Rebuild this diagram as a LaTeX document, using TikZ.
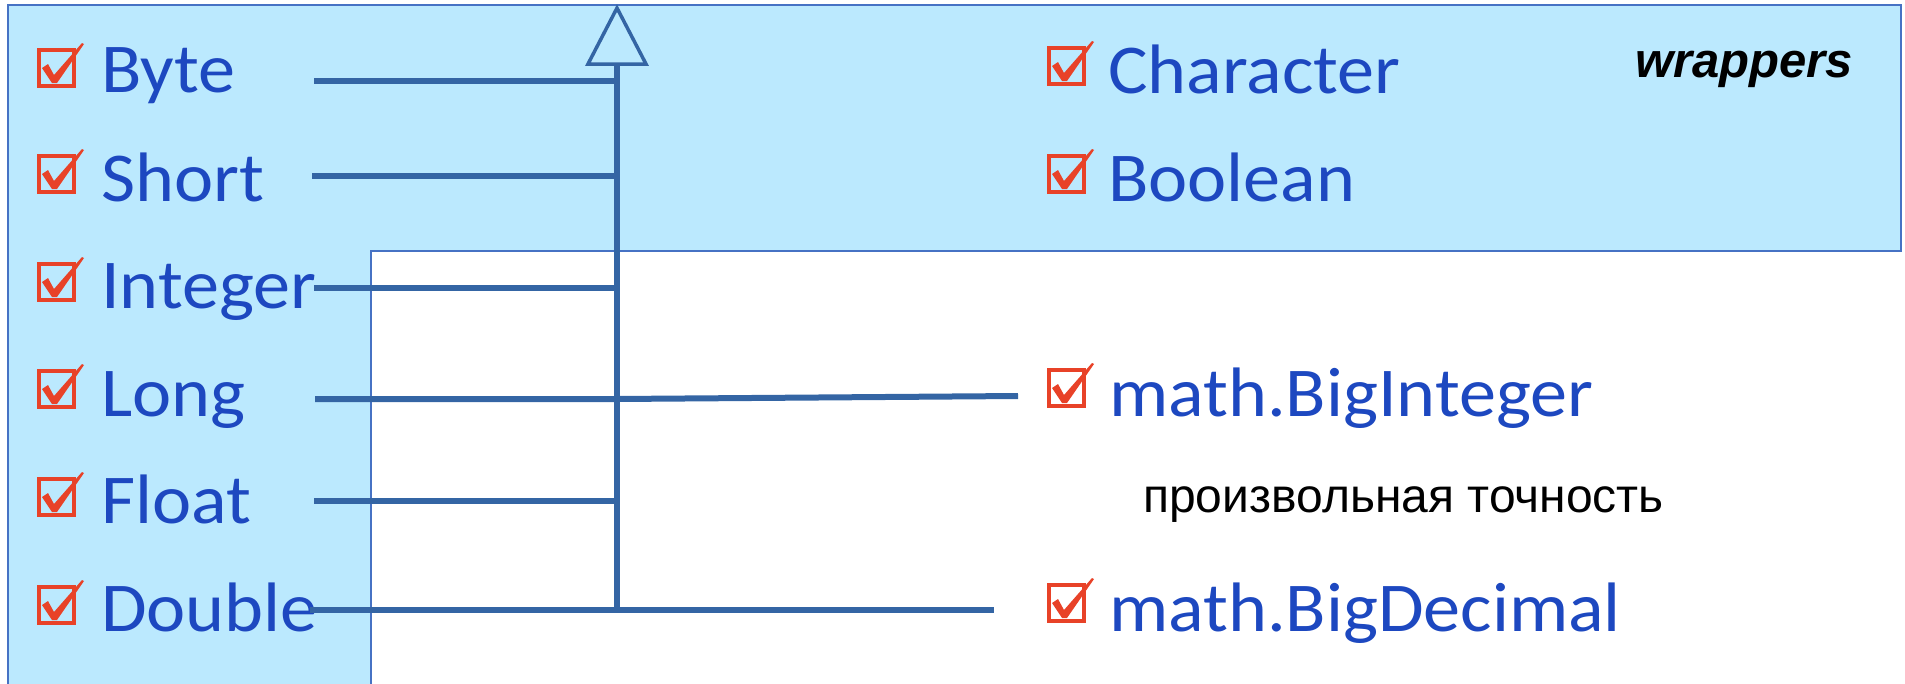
\documentclass[tikz,border=0pt]{standalone}
\usepackage{fontspec}
\setmainfont{Carlito}
\newfontfamily\arialfont{Liberation Sans}
\definecolor{bgblue}{RGB}{187,233,254}
\definecolor{edgeblue}{RGB}{70,114,196}
\definecolor{linecol}{RGB}{52,101,164}
\definecolor{txtblue}{RGB}{29,72,192}
\definecolor{chkred}{RGB}{232,66,40}
\tikzset{
  lbl/.style={anchor=base west, inner sep=0pt, text=txtblue, xscale=1.06, font=\fontsize{70}{70}\selectfont},
  conn/.style={draw=linecol, line width=6pt},
  arrowhd/.style={draw=linecol, line width=3.5pt, fill=bgblue, line join=miter},
  chk/.pic={
    \draw[chkred, line width=4pt] (2,2) rectangle (37,38);
    \fill[chkred] (5,20) -- (11,16) -- (17,27) -- (45,-5) -- (47,-4) -- (20,35) -- (15,35) -- cycle;
  }
}
\begin{document}
\begin{tikzpicture}[x=1pt,y=-1pt]
\useasboundingbox (0,0) rectangle (1905,683);
% background
\path[fill=bgblue, draw=edgeblue, line width=1.5pt] (8,5) -- (1901,5) -- (1901,251) -- (371,251) -- (371,690) -- (8,690) -- cycle;
% checkboxes
\foreach \y in {48,154,262,369,477,585} { \pic at (37,\y) {chk}; }
\foreach \y in {46,154,368,583} { \pic at (1047,\y) {chk}; }
% labels
\node[lbl] (byte) at (101,92) {Byte};
\node[lbl] (short) at (101,201) {Short};
\node[lbl] (integer) at (101,308) {Integer};
\node[lbl] (long) at (101,416) {Long};
\node[lbl] (float) at (101,523) {Float};
\node[lbl] (double) at (101,631) {Double};
\node[lbl] (character) at (1108,93) {Character};
\node[lbl] (boolean) at (1108,201) {Boolean};
\node[lbl] (bigint) at (1109,416) {math.BigInteger};
\node[lbl] (bigdec) at (1109,631) {math.BigDecimal};
\node[anchor=base west, inner sep=0pt, font=\arialfont\bfseries\itshape\fontsize{49}{49}\selectfont] (wrap) at (1635,77) {wrappers};
\node[anchor=base west, inner sep=0pt, font=\arialfont\fontsize{48}{48}\selectfont] (prec) at (1143,512) {произвольная точность};
% connector coordinates
\coordinate (apex) at (617,8);
\coordinate (base) at (617,64);
\coordinate (s1) at (314,81);
\coordinate (s2) at (312,176);
\coordinate (s3) at (314,288);
\coordinate (s4) at (315,399);
\coordinate (s5) at (314,501);
\coordinate (s6) at (310,610);
\coordinate (t4) at (617,399);
\coordinate (t6) at (617,610);
\coordinate (e4) at (1018,396);
\coordinate (e6) at (994,610);
% connectors
\draw[conn] (t6) -- (base);
\foreach \s in {s1,s2,s3,s5} { \draw[conn] (\s) -- (\s -| base); }
\draw[conn] (s4) -- (t4) -- (e4);
\draw[conn] (s6) -- (e6);
\draw[arrowhd] (apex) -- ++(-29,56) -- ++(58,0) -- cycle;
\end{tikzpicture}
\end{document}
